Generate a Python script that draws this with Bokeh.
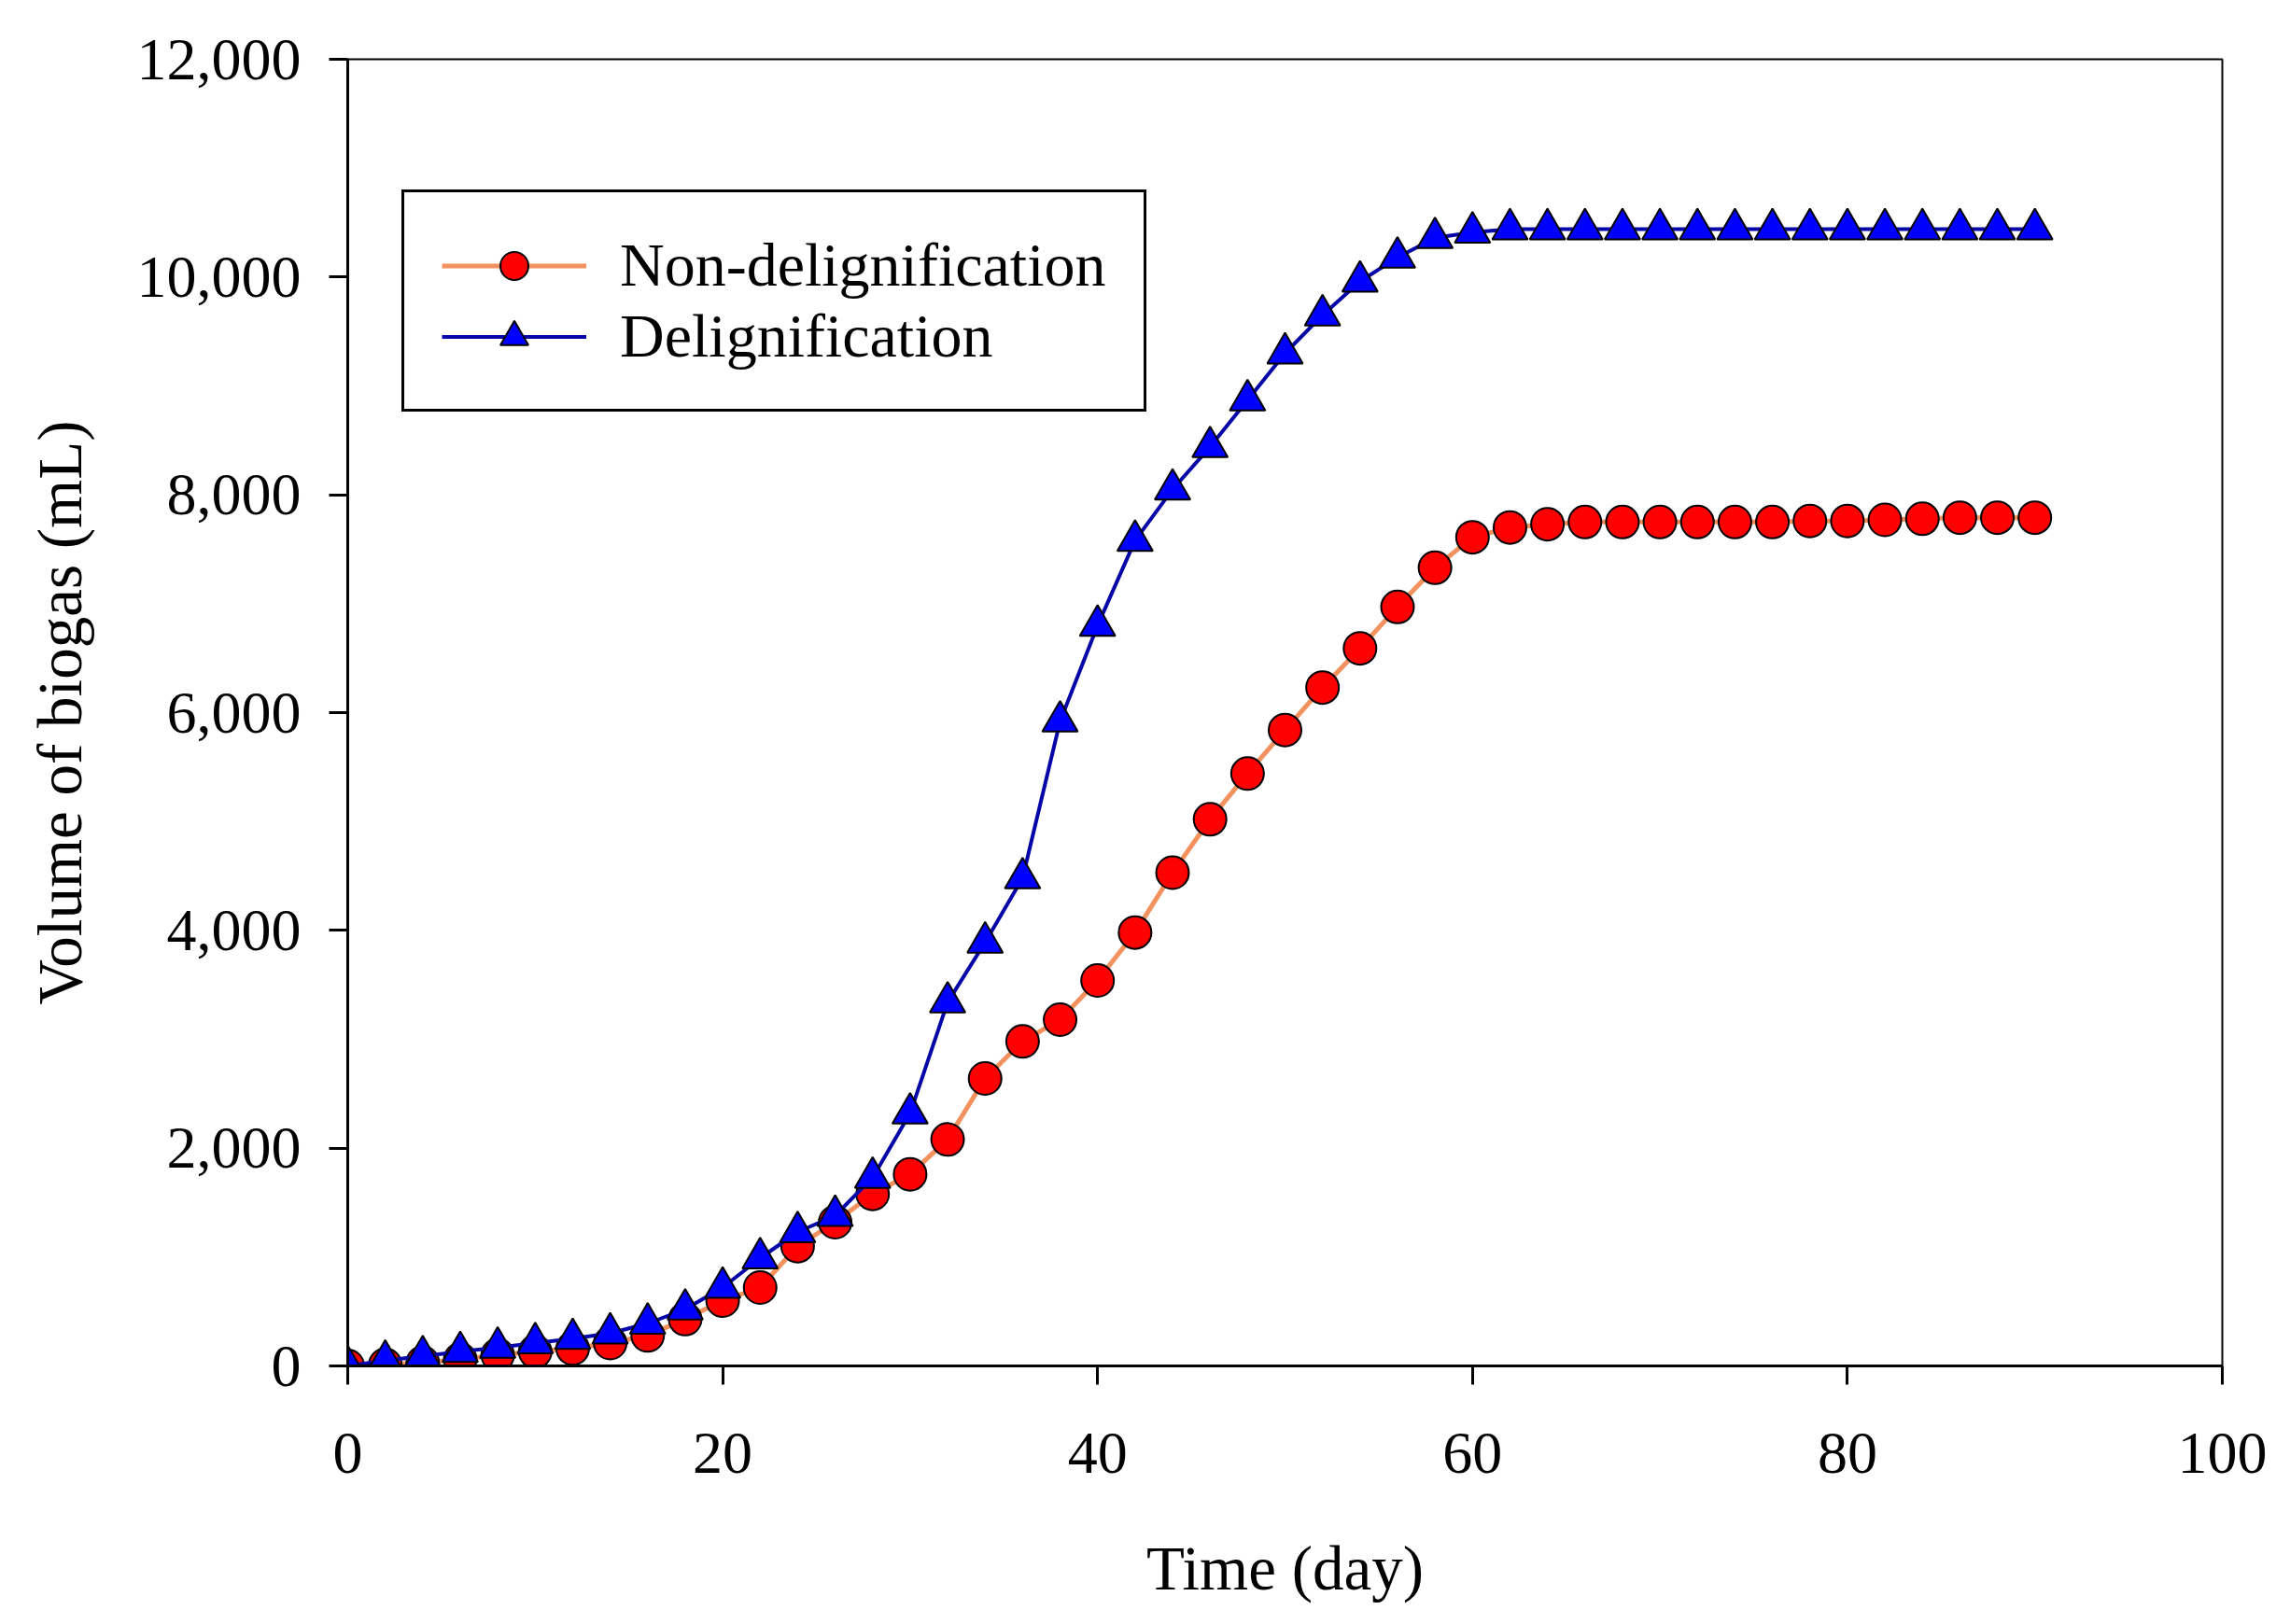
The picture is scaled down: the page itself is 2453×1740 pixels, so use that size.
from bokeh.plotting import figure
from bokeh.models import Range1d, FixedTicker, NumeralTickFormatter, Legend, LegendItem
from bokeh.embed import file_html
from bokeh.resources import INLINE

# days of measurement
days = [0, 2, 4, 6, 8, 10, 12, 14, 16, 18, 20, 22, 24, 26, 28, 30, 32, 34, 36, 38,
        40, 42, 44, 46, 48, 50, 52, 54, 56, 58, 60, 62, 64, 66, 68, 70, 72, 74, 76, 78,
        80, 82, 84, 86, 88, 90]

# cumulative biogas volume (mL)
non_delig = [0, 10, 30, 60, 100, 130, 160, 210, 280, 430, 600, 720, 1100, 1320, 1580, 1760,
             2080, 2640, 2980, 3180, 3540, 3980, 4530, 5020, 5440, 5840, 6230, 6590, 6970, 7330,
             7610, 7700, 7730, 7750, 7750, 7750, 7750, 7750, 7750, 7760, 7760, 7770, 7780, 7790,
             7790, 7790]
delig = [0, 50, 90, 130, 170, 210, 250, 300, 390, 520, 720, 990, 1230, 1380, 1730, 2320,
         3340, 3890, 4480, 5920, 6800, 7580, 8050, 8440, 8870, 9300, 9650, 9960, 10180, 10360,
         10410, 10440, 10440, 10440, 10440, 10440, 10440, 10440, 10440, 10440, 10440, 10440,
         10440, 10440, 10440, 10440]

x_ticks = [0, 20, 40, 60, 80, 100]
y_ticks = [0, 2000, 4000, 6000, 8000, 10000, 12000]

FONT = "Liberation Serif"
FS = "64px"
FS_LABEL = "67px"

p = figure(width=2440, height=1724,
           x_range=Range1d(0, 100), y_range=Range1d(0, 12000),
           output_backend="svg", toolbar_location=None,
           min_border_left=372, min_border_right=60,
           min_border_top=63, min_border_bottom=261)

p.grid.visible = False
p.background_fill_color = "white"
p.outline_line_color = "black"
p.outline_line_width = 2

for ax in (p.xaxis[0], p.yaxis[0]):
    ax.axis_line_width = 3
    ax.axis_line_color = "black"
    ax.major_tick_line_width = 3
    ax.major_tick_in = 0
    ax.major_tick_out = 20
    ax.minor_tick_line_color = None
    ax.major_label_text_font = FONT
    ax.major_label_text_font_size = FS
    ax.major_label_text_color = "black"
    ax.axis_label_text_font = FONT
    ax.axis_label_text_font_size = FS_LABEL
    ax.axis_label_text_font_style = "normal"
    ax.axis_label_text_color = "black"

p.xaxis.ticker = FixedTicker(ticks=x_ticks)
p.yaxis.ticker = FixedTicker(ticks=y_ticks)
p.yaxis.formatter = NumeralTickFormatter(format="0,0")
p.xaxis.axis_label = "Time (day)"
p.yaxis.axis_label = "Volume of biogas (mL)"
p.xaxis.major_label_standoff = 52
p.yaxis.major_label_standoff = 30
p.xaxis.axis_label_standoff = 62
p.yaxis.axis_label_standoff = 43

# Non-delignification
l1 = p.line(days, non_delig, line_color="#F3925E", line_width=5)
m1 = p.scatter(days, non_delig, marker="circle", size=35,
               fill_color="#FF0000", line_color="black", line_width=2)

# Delignification
l2 = p.line(days, delig, line_color="#0606A8", line_width=4)
m2 = p.scatter(days, delig, marker="triangle", size=38,
               fill_color="#0000FF", line_color="black", line_width=2)

legend = Legend(items=[LegendItem(label="Non-delignification", renderers=[l1, m1]),
                       LegendItem(label="Delignification", renderers=[l2, m2])],
                location=(58, 1022))
legend.margin = 0
legend.padding = 40
legend.spacing = 0
legend.glyph_width = 155
legend.glyph_height = 75
legend.label_height = 75
legend.label_standoff = 36
legend.label_text_font = FONT
legend.label_text_font_size = "66px"
legend.label_text_color = "black"
legend.border_line_color = "black"
legend.border_line_alpha = 1
legend.border_line_width = 3
legend.background_fill_alpha = 1
p.add_layout(legend, "center")

open("out.html", "w").write(file_html(p, INLINE))
